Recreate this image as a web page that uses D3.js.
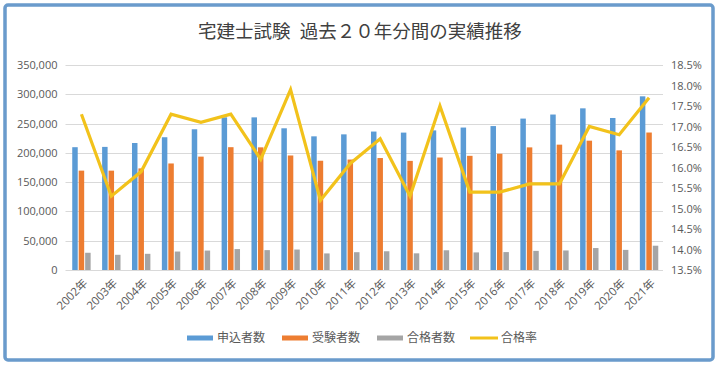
<!DOCTYPE html>
<html>
<head>
<meta charset="utf-8">
<script src="https://d3js.org/d3.v7.min.js"></script>
<style>
body { margin: 0; background: #fff; }
.axis text { font-family: "Open Sans", "Liberation Sans", sans-serif; font-size: 11px; fill: #595959; }
.axis path, .axis line { display: none; }
</style>
</head>
<body>
<div id="container"></div>
<script>

// values
var years = ["2002年","2003年","2004年","2005年","2006年","2007年","2008年","2009年","2010年","2011年",
             "2012年","2013年","2014年","2015年","2016年","2017年","2018年","2019年","2020年","2021年"];
var applicants = [209672,210182,216830,226665,240278,260633,260591,241944,228214,231596,
                  236350,234586,238343,243199,245742,258511,265444,276019,259524,296518];
var examinees  = [169657,169625,173457,181880,193573,209684,209415,195515,186542,188572,
                  191169,186304,192029,194926,198463,209354,213993,220797,204250,234714];
var passers    = [29423,25942,27639,31520,33191,35733,33946,34918,28311,30391,
                  32000,28470,33670,30028,30589,32644,33360,37481,34338,41471];
var passRate   = [17.3,15.3,15.9,17.3,17.1,17.3,16.2,17.9,15.2,16.1,
                  16.7,15.3,17.5,15.4,15.4,15.6,15.6,17.0,16.8,17.7];
var seriesNames = ["申込者数","受験者数","合格者数"];
var lineName = "合格率";
var countTicks = [0,50000,100000,150000,200000,250000,300000,350000];
var rateTicks = [13.5,14.0,14.5,15.0,15.5,16.0,16.5,17.0,17.5,18.0,18.5];

var colors = ["#5b9bd5","#ed7d31","#a5a5a5"];
var lineColor = "#f2c21b";
var cjk = "'Noto Sans CJK JP', sans-serif";

var svg = d3.select("#container").append("svg")
    .attr("width", 720).attr("height", 365);

svg.append("rect")
    .attr("x", 5).attr("y", 5).attr("width", 708).attr("height", 355)
    .attr("rx", 3)
    .attr("fill", "#fff")
    .attr("stroke", "#6a9bcc")
    .attr("stroke-width", 3.5);

svg.append("text")
    .attr("x", 360).attr("y", 38)
    .attr("text-anchor", "middle")
    .attr("font-family", cjk)
    .attr("font-size", "18.5px")
    .attr("fill", "#404040")
    .text("宅建士試験\u2002過去２０年分間の実績推移");

var plotL = 66.5, plotR = 664, plotT = 65, plotB = 270;

var x0 = d3.scaleBand().domain(years).range([plotL, plotR]).padding(0);
var x1 = d3.scaleBand().domain(seriesNames)
    .range([x0.bandwidth() / 2 - 9.2, x0.bandwidth() / 2 + 9.2]).paddingInner(0.15);
var y = d3.scaleLinear().domain([0, 350000]).range([plotB, plotT]);
var yR = d3.scaleLinear().domain([13.5, 18.5]).range([plotB, plotT]);

// gridlines
svg.append("g").selectAll("line")
    .data(countTicks)
  .enter().append("line")
    .attr("x1", plotL - 1).attr("x2", plotR - 1)
    .attr("y1", function(d) { return Math.round(y(d)) + 0.5; })
    .attr("y2", function(d) { return Math.round(y(d)) + 0.5; })
    .attr("stroke", "#d9d9d9")
    .attr("stroke-width", 1);

svg.append("g")
    .attr("class", "axis")
    .attr("transform", "translate(" + (plotL - 1) + ",0)")
    .call(d3.axisLeft(y).tickValues(countTicks).tickSize(0).tickPadding(8)
        .tickFormat(d3.format(",")));

svg.append("g")
    .attr("class", "axis")
    .attr("transform", "translate(" + (plotR + 1) + ",0)")
    .call(d3.axisRight(yR).tickValues(rateTicks).tickSize(0).tickPadding(6)
        .tickFormat(function(d) { return d.toFixed(1) + "%"; }));

// x labels, rotated
svg.append("g").selectAll("text")
    .data(years)
  .enter().append("text")
    .attr("transform", function(d) {
      return "translate(" + (x0(d) + x0.bandwidth() / 2 + 4) + "," + 281 + ") rotate(-45)";
    })
    .attr("text-anchor", "end")
    .attr("dy", "0.35em")
    .attr("font-family", "'Open Sans', " + cjk)
    .attr("font-size", "11.5px")
    .attr("fill", "#595959")
    .text(function(d) { return d; });

// bars
var series = [applicants, examinees, passers];
series.forEach(function(vals, i) {
  svg.append("g").selectAll("rect")
      .data(vals)
    .enter().append("rect")
      .attr("x", function(d, j) { return x0(years[j]) + x1(seriesNames[i]); })
      .attr("y", function(d) { return y(d); })
      .attr("width", x1.bandwidth())
      .attr("height", function(d) { return plotB - y(d); })
      .attr("fill", colors[i]);
});

// pass rate line
var line = d3.line()
    .x(function(d, j) { return x0(years[j]) + x0.bandwidth() / 2; })
    .y(function(d) { return yR(d); });

svg.append("path")
    .datum(passRate)
    .attr("d", line)
    .attr("fill", "none")
    .attr("stroke", lineColor)
    .attr("stroke-width", 3.2)
    .attr("stroke-linejoin", "miter");

// legend
var legendX = [187, 282, 377, 470];
var legend = svg.append("g");
seriesNames.forEach(function(name, i) {
  legend.append("rect")
      .attr("x", legendX[i]).attr("y", 335.5)
      .attr("width", 26).attr("height", 5)
      .attr("fill", colors[i]);
  legend.append("text")
      .attr("x", legendX[i] + 30).attr("y", 338)
      .attr("dy", "0.35em")
      .attr("font-family", cjk).attr("font-size", "12px").attr("fill", "#595959")
      .text(name);
});
legend.append("line")
    .attr("x1", legendX[3]).attr("x2", legendX[3] + 28)
    .attr("y1", 338).attr("y2", 338)
    .attr("stroke", lineColor).attr("stroke-width", 3);
legend.append("text")
    .attr("x", legendX[3] + 31).attr("y", 338)
    .attr("dy", "0.35em")
    .attr("font-family", cjk).attr("font-size", "12px").attr("fill", "#595959")
    .text(lineName);

</script>
</body>
</html>
